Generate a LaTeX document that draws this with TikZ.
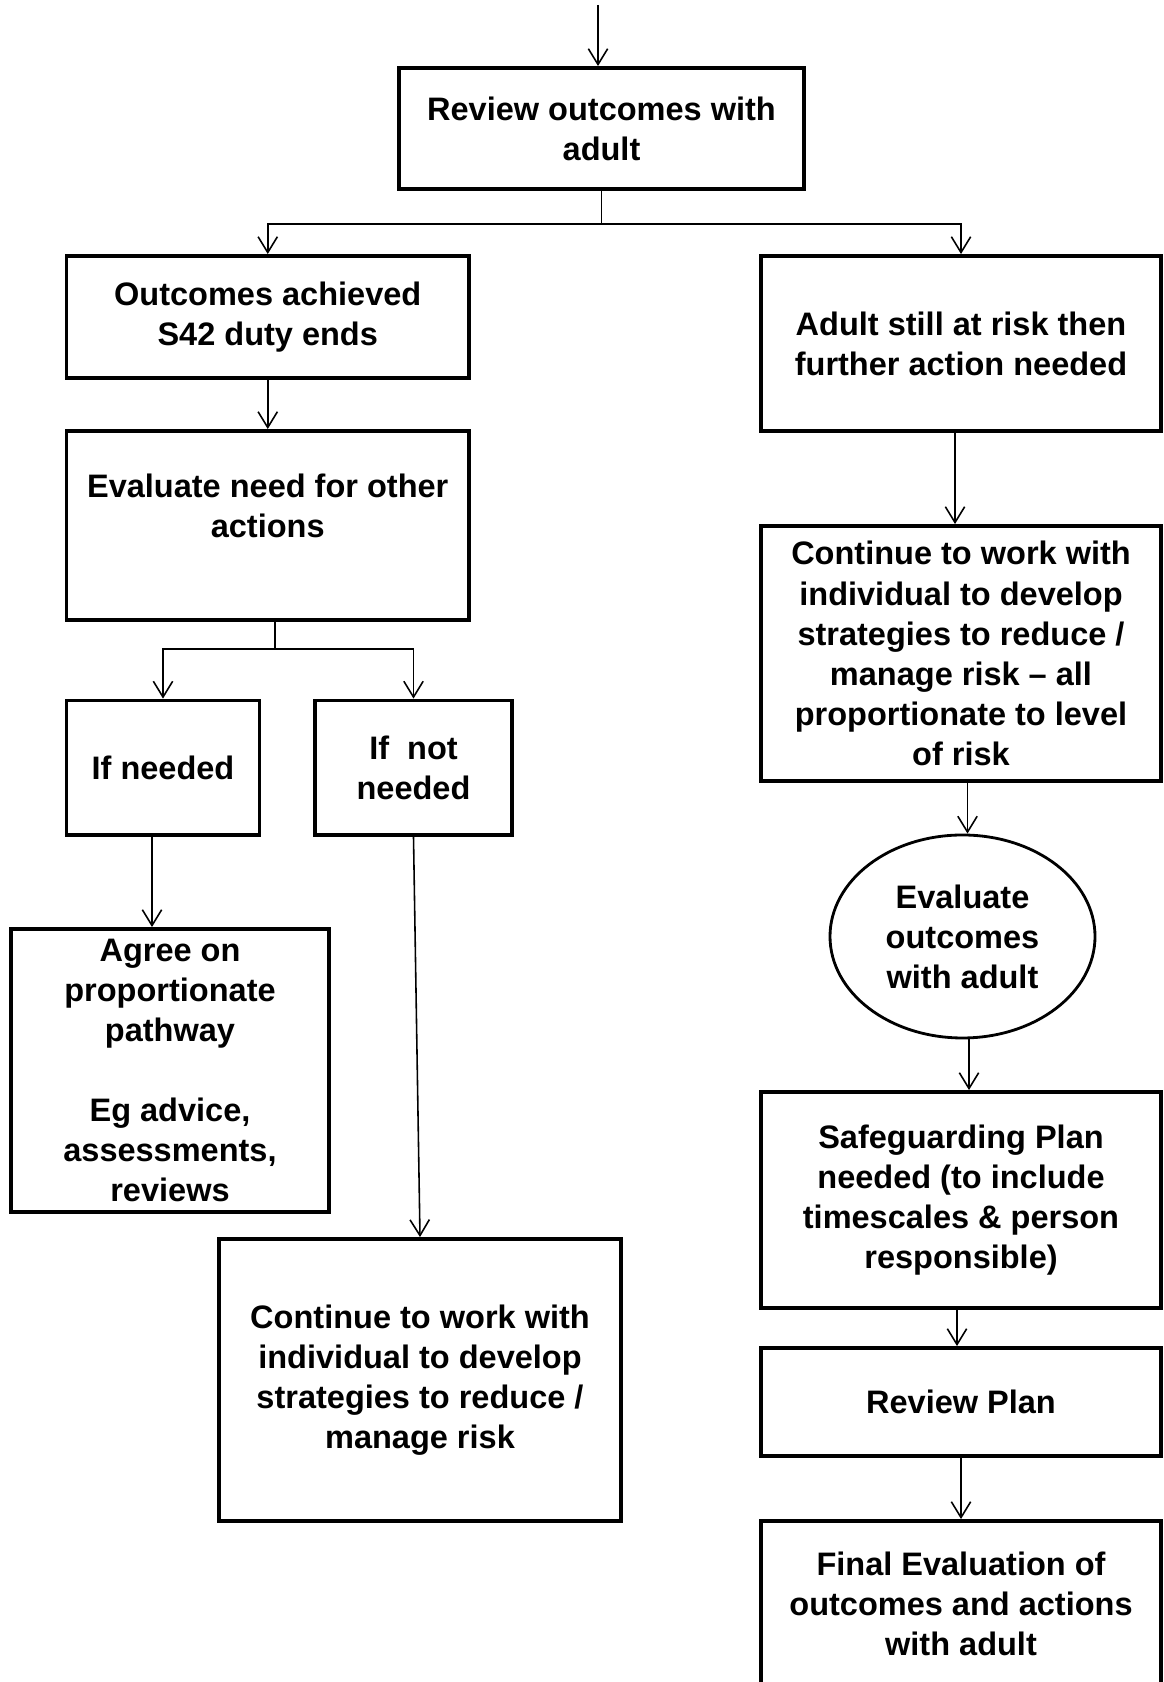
\documentclass[tikz,border=0pt]{standalone}
\usepackage{fontspec}
\setmainfont{Liberation Sans}
\usetikzlibrary{arrows.meta, shapes.geometric}

\begin{document}
\begin{tikzpicture}[
    box/.style={draw, line width=2.2pt, align=center, inner sep=0pt,
        font=\bfseries\fontsize{18.5pt}{22.8pt}\selectfont},
    oval/.style={box, ellipse, line width=1.6pt},
    arr/.style={line width=0.9pt, -{Straight Barb[length=9pt, width=11pt]}}
]
\useasboundingbox (0,0) rectangle (23.26,33.64);

% left branch
\node[box, minimum width=8.10cm, minimum height=2.42cm] (review) at (12.03, 31.07) {Review outcomes with\\adult};
\node[box, minimum width=8.05cm, minimum height=2.44cm] (outc) at (5.355, 27.30) {Outcomes achieved\\S42 duty ends};
\node[box, minimum width=8.05cm, minimum height=3.78cm] (evalneed) at (5.355, 23.13) {Evaluate need for other\\actions\\~};
\node[box, minimum width=3.86cm, minimum height=2.69cm] (ifneed) at (3.26, 18.284) {If needed};
\node[box, minimum width=3.94cm, minimum height=2.69cm] (ifnot) at (8.27, 18.284) {If~~not\\needed};
\node[box, minimum width=6.36cm, minimum height=5.66cm] (agree) at (3.40, 12.23) {Agree on\\proportionate\\pathway\\~\\Eg advice,\\assessments,\\reviews};
\node[box, minimum width=8.04cm, minimum height=5.64cm] (contl) at (8.40, 6.04) {Continue to work with\\individual to develop\\strategies to reduce /\\manage risk};

% right branch
\node[box, minimum width=8.00cm, minimum height=3.50cm] (risk) at (19.22, 26.77) {Adult still at risk then\\further action needed};
\node[box, minimum width=8.00cm, minimum height=5.10cm] (contr) at (19.22, 20.57) {Continue to work with\\individual to develop\\strategies to reduce /\\manage risk – all\\proportionate to level\\of risk};
\node[oval, minimum width=5.30cm, minimum height=4.06cm] (evalout) at (19.25, 14.91) {Evaluate\\outcomes\\with adult};
\node[box, minimum width=8.00cm, minimum height=4.32cm] (safe) at (19.22, 9.64) {Safeguarding Plan\\needed (to include\\timescales \& person\\responsible)};
\node[box, minimum width=8.00cm, minimum height=2.16cm] (revplan) at (19.22, 5.60) {Review Plan};
\node[box, minimum width=8.00cm, minimum height=3.32cm] (final) at (19.22, 1.56) {Final Evaluation of\\outcomes and actions\\with adult};

\coordinate (entry) at (11.96, 33.54);
\draw[arr] (entry) -- (entry |- review.north);
\draw[arr] (review.south) -- ++(0,-0.66) -| (outc.north);
\draw[arr] (review.south) -- ++(0,-0.66) -| (risk.north);
\draw[arr] (outc) -- (evalneed);
\draw[arr] ([xshift=0.14cm]evalneed.south) -- ++(0,-0.54) -| (ifneed.north);
\draw[arr] ([xshift=0.14cm]evalneed.south) -- ++(0,-0.54) -| (ifnot.north);
\draw[arr] ([xshift=-0.22cm]ifneed.south) -- ([xshift=-0.22cm]ifneed.south |- agree.north);
\draw[arr] (ifnot.south) -- (contl.north);

\draw[arr] ([xshift=-0.12cm]risk.south) -- ([xshift=-0.12cm]risk.south |- contr.north);
\draw[arr] ([xshift=0.13cm]contr.south) -- ([xshift=0.13cm]contr.south |- evalout.north);
\draw[arr] ([xshift=0.13cm]evalout.south) -- ([xshift=0.13cm]evalout.south |- safe.north);
\draw[arr] ([xshift=-0.08cm]safe.south) -- ([xshift=-0.08cm]safe.south |- revplan.north);
\draw[arr] (revplan) -- (final);

\end{tikzpicture}
\end{document}
